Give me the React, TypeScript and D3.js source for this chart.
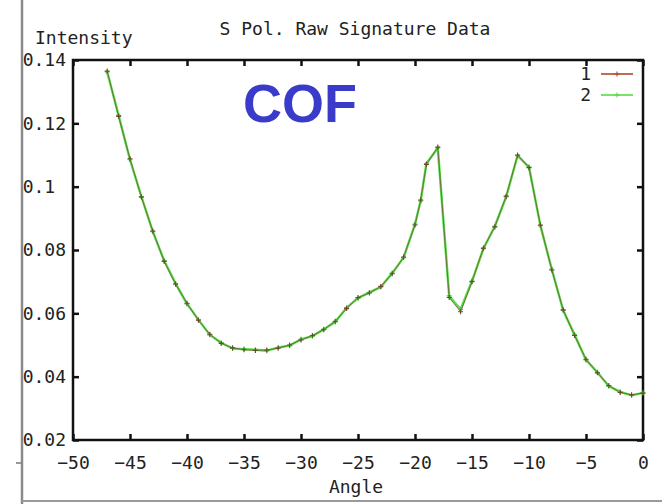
import React, { useEffect, useRef } from 'react';
import * as d3 from 'd3';

// angle (deg) and intensity
const angles = [
  -47, -46, -45, -44, -43, -42, -41, -40, -39, -38, -37, -36, -35, -34, -33, -32, -31, -30,
  -29, -28, -27, -26, -25, -24, -23, -22, -21, -20, -19.5, -19, -18, -17, -16, -15, -14,
  -13, -12, -11, -10, -9, -8, -7, -6, -5, -4, -3, -2, -1, 0,
];
const series1 = [
  0.1365, 0.1222, 0.1088, 0.0967, 0.086, 0.0764, 0.0692, 0.0632, 0.0578, 0.0534, 0.0505,
  0.0491, 0.0485, 0.0483, 0.0484, 0.049, 0.05, 0.0516, 0.053, 0.0548, 0.0575, 0.0615, 0.065,
  0.0664, 0.0685, 0.0725, 0.0778, 0.0879, 0.0958, 0.107, 0.1125, 0.065, 0.0605, 0.07,
  0.0806, 0.0873, 0.097, 0.11, 0.106, 0.0879, 0.0737, 0.0611, 0.053, 0.0455, 0.0412,
  0.0372, 0.035, 0.0343, 0.0348,
];
const series2 = [
  0.1362, 0.1225, 0.1085, 0.0969, 0.0858, 0.0766, 0.0694, 0.063, 0.058, 0.0532, 0.0507,
  0.0489, 0.0487, 0.0485, 0.0482, 0.0492, 0.0498, 0.0518, 0.0528, 0.055, 0.0573, 0.0618,
  0.0648, 0.0666, 0.0683, 0.0727, 0.0776, 0.0882, 0.0955, 0.1073, 0.1122, 0.0655, 0.0612,
  0.0702, 0.0804, 0.0875, 0.0968, 0.1098, 0.1062, 0.0877, 0.0739, 0.0609, 0.0532, 0.0453,
  0.0414, 0.037, 0.0352, 0.0341, 0.0349,
];
const xTicks = [-50, -45, -40, -35, -30, -25, -20, -15, -10, -5, 0];
const yTicks = [0.02, 0.04, 0.06, 0.08, 0.1, 0.12, 0.14];
const yTickLabels = ['0.02', '0.04', '0.06', '0.08', '0.1', '0.12', '0.14'];
const seriesNames = ['1', '2'];

export default function App() {
  const ref = useRef(null);

  useEffect(() => {
    const width = 662;
    const height = 504;
    const margin = { top: 60, right: 19, bottom: 64, left: 73 };
    const mono = '"DejaVu Sans Mono", monospace';

    const svg = d3.select(ref.current);
    svg.selectAll('*').remove();
    svg.attr('viewBox', [0, 0, width, height]);

    const x = d3.scaleLinear().domain([-50, 0]).range([margin.left, width - margin.right]);
    const y = d3.scaleLinear().domain([0.02, 0.14]).range([height - margin.bottom, margin.top]);

    const fmtY = (d) => yTickLabels[yTicks.indexOf(d)].padEnd(4, ' ');

    // axes, ticks pointing inward on all sides
    const styleAxis = (g) => {
      g.select('.domain').remove();
      g.selectAll('line').attr('stroke', '#111').attr('stroke-width', 2.5);
      g.selectAll('text')
        .attr('font-family', mono)
        .attr('font-size', 18)
        .attr('fill', '#222')
        .style('white-space', 'pre');
    };

    svg.append('g')
      .attr('transform', `translate(0,${y(0.02)})`)
      .call(d3.axisBottom(x).tickValues(xTicks).tickSize(-6).tickPadding(16).tickFormat((d) => String(d).replace('-', '−')))
      .call(styleAxis);

    svg.append('g')
      .attr('transform', `translate(0,${y(0.14)})`)
      .call(d3.axisTop(x).tickValues(xTicks).tickSize(-6).tickFormat(() => ''))
      .call(styleAxis);

    svg.append('g')
      .attr('transform', `translate(${x(-50)},0)`)
      .call(d3.axisLeft(y).tickValues(yTicks).tickSize(-6).tickPadding(7).tickFormat(fmtY))
      .call(styleAxis);

    svg.append('g')
      .attr('transform', `translate(${x(0)},0)`)
      .call(d3.axisRight(y).tickValues(yTicks).tickSize(-6).tickFormat(() => ''))
      .call(styleAxis);

    // frame
    svg.append('rect')
      .attr('x', x(-50))
      .attr('y', y(0.14))
      .attr('width', x(0) - x(-50))
      .attr('height', y(0.02) - y(0.14))
      .attr('fill', 'none')
      .attr('stroke', '#111')
      .attr('stroke-width', 2.5);

    // curves
    const line = d3.line().x((d) => x(d[0])).y((d) => y(d[1]));
    const pts1 = angles.map((a, i) => [a, series1[i]]);
    const pts2 = angles.map((a, i) => [a, series2[i]]);

    svg.append('path').attr('d', line(pts2)).attr('fill', 'none')
      .attr('stroke', '#55dd44').attr('stroke-width', 2.4).attr('stroke-linejoin', 'round');
    svg.append('path').attr('d', line(pts1)).attr('fill', 'none')
      .attr('stroke', '#6d5a3a').attr('stroke-width', 1).attr('opacity', 0.8);

    const plus = (g, px, py, s, color) => {
      g.append('path')
        .attr('d', `M${px - s},${py}H${px + s}M${px},${py - s}V${py + s}`)
        .attr('stroke', color).attr('stroke-width', 1.1);
    };
    const marks = svg.append('g');
    pts2.forEach((d) => plus(marks, x(d[0]), y(d[1]), 2.5, '#48c040'));
    pts1.forEach((d) => plus(marks, x(d[0]), y(d[1]), 2.5, '#6b4a2a'));

    // legend
    const legendColors = ['#b0482a', '#55dd44'];
    seriesNames.forEach((name, i) => {
      const ly = 74 + i * 21;
      svg.append('text').attr('x', 591).attr('y', ly + 6)
        .attr('text-anchor', 'end').attr('font-family', mono).attr('font-size', 18)
        .attr('fill', '#222').text(name);
      svg.append('line').attr('x1', 601).attr('x2', 633).attr('y1', ly).attr('y2', ly)
        .attr('stroke', legendColors[i]).attr('stroke-width', 1.6);
      plus(svg, 617, ly, 2.5, legendColors[i]);
    });

    // titles
    svg.append('text').attr('x', 355).attr('y', 35).attr('text-anchor', 'middle')
      .attr('font-family', mono).attr('font-size', 18).attr('fill', '#222')
      .text('S Pol. Raw Signature Data');
    svg.append('text').attr('x', 35).attr('y', 44)
      .attr('font-family', mono).attr('font-size', 18).attr('fill', '#222')
      .text('Intensity');
    svg.append('text').attr('x', 356).attr('y', 493).attr('text-anchor', 'middle')
      .attr('font-family', mono).attr('font-size', 18).attr('fill', '#222')
      .text('Angle');

    svg.append('text').attr('x', 243).attr('y', 122)
      .attr('font-family', '"Liberation Sans", Arial, sans-serif').attr('font-weight', 'bold')
      .attr('font-size', 54).attr('fill', '#3a3acb')
      .text('COF');

    // grey page border of the screenshot
    svg.append('line').attr('x1', 22).attr('x2', 22).attr('y1', 0).attr('y2', height)
      .attr('stroke', '#8a8a8a').attr('stroke-width', 2.5);
    svg.append('line').attr('x1', 22).attr('x2', width).attr('y1', 501).attr('y2', 501)
      .attr('stroke', '#9a9a9a').attr('stroke-width', 2);
    svg.append('line').attr('x1', 16).attr('x2', 21).attr('y1', 463).attr('y2', 463)
      .attr('stroke', '#777').attr('stroke-width', 1.5);
  });

  return (
    <svg
      ref={ref}
      width={662}
      height={504}
      style={{ position: 'absolute', left: 0, top: 0, background: '#fff' }}
    />
  );
}
